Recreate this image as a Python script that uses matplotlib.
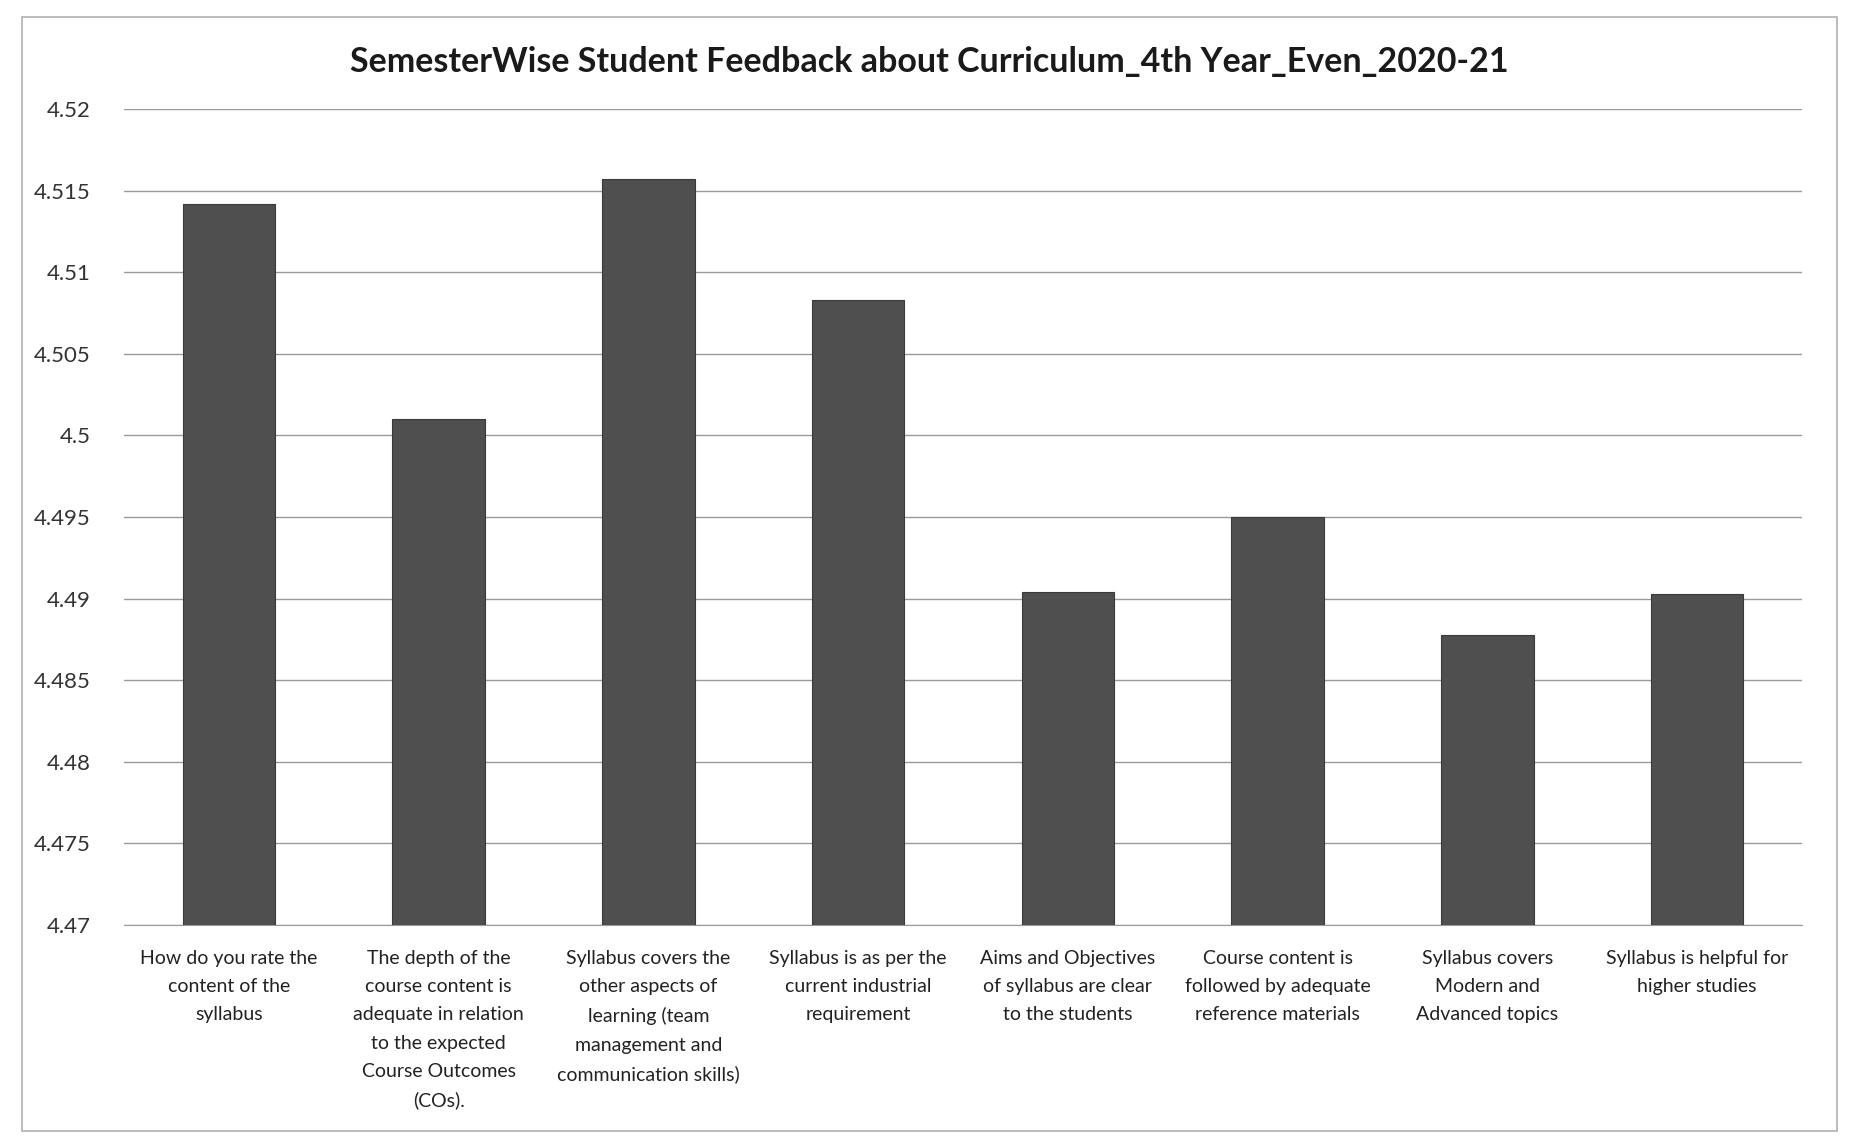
import matplotlib
matplotlib.use('Agg')
import matplotlib.pyplot as plt
import numpy as np

# category labels, wrapped as in the original sheet
categories = [
    'How do you rate the\ncontent of the\nsyllabus',
    'The depth of the\ncourse content is\nadequate in relation\nto the expected\nCourse Outcomes\n(COs).',
    'Syllabus covers the\nother aspects of\nlearning (team\nmanagement and\ncommunication skills)',
    'Syllabus is as per the\ncurrent industrial\nrequirement',
    'Aims and Objectives\nof syllabus are clear\nto the students',
    'Course content is\nfollowed by adequate\nreference materials',
    'Syllabus covers\nModern and\nAdvanced topics',
    'Syllabus is helpful for\nhigher studies',
]
scores = [4.5142, 4.5010, 4.5157, 4.5083, 4.4904, 4.4950, 4.4878, 4.4903]
y_ticks = [4.47, 4.475, 4.48, 4.485, 4.49, 4.495, 4.5, 4.505, 4.51, 4.515, 4.52]
y_tick_labels = ['4.47', '4.475', '4.48', '4.485', '4.49', '4.495', '4.5', '4.505', '4.51', '4.515', '4.52']

plt.rcParams['font.family'] = ['Lato', 'DejaVu Sans']

fig = plt.figure(figsize=(18.59, 11.42), dpi=100)
ax = fig.add_axes([124 / 1859, 1 - 925 / 1142, (1802 - 124) / 1859, (925 - 109) / 1142])

x = np.arange(len(categories))
ax.bar(x, scores, width=0.44, color='#4f4f4f', edgecolor='#3a3a3a', linewidth=0.8, zorder=3)

ax.set_ylim(4.47, 4.52)
ax.set_xlim(-0.5, len(categories) - 0.5)
ax.set_yticks(y_ticks)
ax.set_yticklabels(y_tick_labels, fontsize=16, color='#333333')
ax.set_xticks(x)
ax.set_xticklabels(categories, fontsize=14, color='#222222', linespacing=1.8)
ax.tick_params(axis='y', length=0, pad=24)
ax.tick_params(axis='x', length=0, pad=18)
ax.grid(axis='y', color='#9a9a9a', linewidth=1.0, zorder=0)

for side in ['top', 'right', 'left']:
    ax.spines[side].set_visible(False)
ax.spines['bottom'].set_color('#9a9a9a')

fig.text(0.5, 1 - 62 / 1142, 'SemesterWise Student Feedback about Curriculum_4th Year_Even_2020-21',
         ha='center', va='center', fontsize=24.5, fontweight='bold', color='#1a1a1a')

# thin frame of the printed chart area
fig.patches.append(plt.Rectangle((0.012, 0.01), 0.976, 0.975, transform=fig.transFigure,
                                 fill=False, edgecolor='#b0b0b0', linewidth=1.2))

fig.savefig('out.png', dpi=100)
